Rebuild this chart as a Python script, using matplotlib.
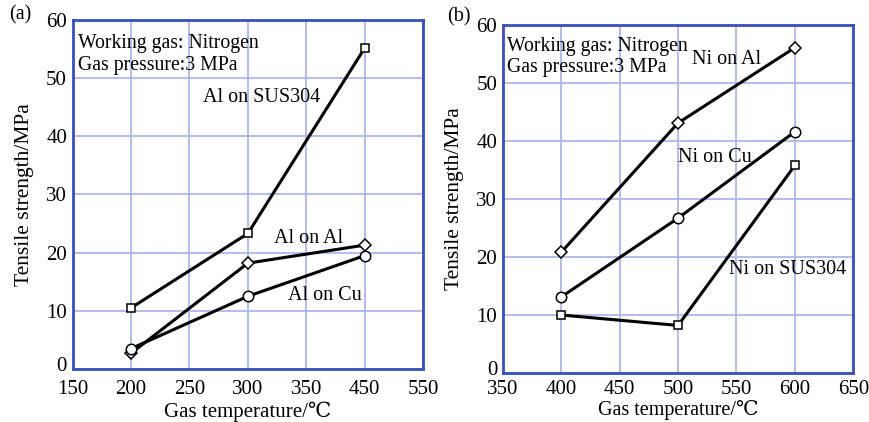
import matplotlib
matplotlib.use("Agg")
import matplotlib.pyplot as plt
import matplotlib.transforms as mtransforms
import numpy as np

plt.rcParams["font.family"] = ["Liberation Serif", "DejaVu Serif"]

# panel (a): Al coatings
temp_a = [200, 300, 450]
al_on_sus304 = [10.5, 23.3, 55.2]
al_on_al = [2.7, 18.2, 21.3]
al_on_cu = [3.5, 12.5, 19.5]

# panel (b): Ni coatings
temp_b = [400, 500, 600]
ni_on_al = [20.8, 43.1, 56.1]
ni_on_cu = [13.1, 26.7, 41.6]
ni_on_sus304 = [10.0, 8.2, 35.8]

# the (a) axis is printed with evenly spaced labels 150 ... 350, 450, 550
xticks_a = [150, 200, 250, 300, 350, 450, 550]
xticks_b = [350, 400, 450, 500, 550, 600, 650]
yticks = [0, 10, 20, 30, 40, 50, 60]

SPINE = "#3850b8"
GRID = "#b0b6e8"
NOTE = "Working gas: Nitrogen\nGas pressure:3 MPa"


def even_tick_scale(ticks):
    idx = np.arange(len(ticks), dtype=float)
    vals = np.asarray(ticks, dtype=float)
    fwd = lambda x: np.interp(x, vals, idx)
    inv = lambda i: np.interp(i, idx, vals)
    return fwd, inv


def style_axes(fig, ax, xticks):
    ax.set_xscale("function", functions=even_tick_scale(xticks))
    ax.set_xlim(xticks[0], xticks[-1])
    ax.set_ylim(0, 60)
    ax.set_xticks(xticks)
    ax.set_xticklabels([str(t) for t in xticks])
    ax.minorticks_off()
    ax.set_yticks(yticks)
    ax.set_yticklabels([str(t) for t in yticks])
    ax.grid(True, color=GRID, linewidth=1.3)
    ax.set_axisbelow(True)
    for sp in ax.spines.values():
        sp.set_color(SPINE)
        sp.set_linewidth(2.0)
    ax.tick_params(length=0, labelsize=15)
    ax.tick_params(axis="y", pad=4)
    ax.set_ylabel("Tensile strength/MPa", fontsize=15.5, labelpad=9)
    # lift the "0" a little so it clears the first x label, as in the print
    lab0 = ax.get_yticklabels()[0]
    lab0.set_transform(lab0.get_transform()
                       + mtransforms.ScaledTranslation(0, 0.05, fig.dpi_scale_trans))


def draw(ax, x, y, marker, ms):
    ax.plot(x, y, color="black", linewidth=2.2, marker=marker, markersize=ms,
            markerfacecolor="white", markeredgecolor="black", markeredgewidth=1.1,
            clip_on=False, zorder=3)


fig = plt.figure(figsize=(8.69, 4.22), dpi=100)
ax1 = fig.add_axes([0.0835, 0.1256, 0.4035, 0.8270])
ax2 = fig.add_axes([0.5785, 0.1161, 0.4035, 0.8247])

style_axes(fig, ax1, xticks_a)
ax1.tick_params(axis="x", pad=8)
ax1.set_xlabel("Gas temperature/\u2103", fontsize=15, labelpad=2)
draw(ax1, temp_a, al_on_sus304, "s", 6)
draw(ax1, temp_a, al_on_al, "D", 6.5)
draw(ax1, temp_a, al_on_cu, "o", 7.5)
ax1.text(155, 57.6, NOTE, fontsize=14.2, va="top", ha="left", linespacing=1.2)
ax1.text(262, 46.7, "Al on SUS304", fontsize=14.5, va="center")
ax1.text(322, 22.5, "Al on Al", fontsize=14.5, va="center")
ax1.text(334, 12.7, "Al on Cu", fontsize=14.5, va="center")
fig.text(0.011, 0.964, "(a)", fontsize=14.5, va="center")

style_axes(fig, ax2, xticks_b)
ax2.tick_params(axis="x", pad=5)
ax2.set_xlabel("Gas temperature/\u2103", fontsize=14.5, labelpad=1)
draw(ax2, temp_b, ni_on_al, "D", 6.5)
draw(ax2, temp_b, ni_on_cu, "o", 7.5)
draw(ax2, temp_b, ni_on_sus304, "s", 6)
ax2.text(353.5, 58.0, NOTE, fontsize=14.2, va="top", ha="left", linespacing=1.2)
ax2.text(512, 54.0, "Ni on Al", fontsize=14.5, va="center")
ax2.text(500, 37.1, "Ni on Cu", fontsize=14.5, va="center")
ax2.text(543.5, 17.8, "Ni on SUS304", fontsize=14.5, va="center")
fig.text(0.514, 0.960, "(b)", fontsize=14.5, va="center")

fig.savefig("out.png", dpi=100)
